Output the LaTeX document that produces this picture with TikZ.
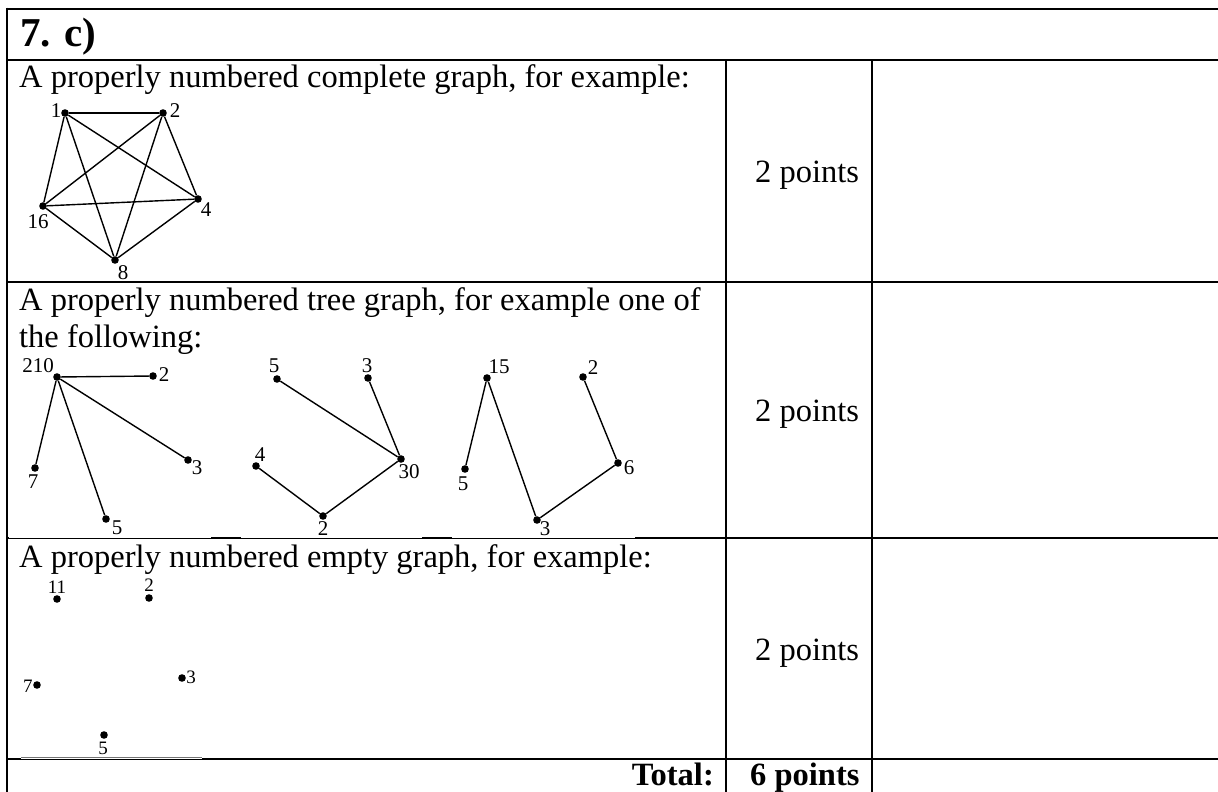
\documentclass[tikz,border=0pt]{standalone}
\usepackage{fontspec}
\setmainfont{Liberation Serif}
\begin{document}
\begin{tikzpicture}[x=1pt,y=-1pt,
  dot/.style={circle, fill=black, inner sep=0pt, minimum size=7.6pt},
  lbl/.style={font=\fontsize{21}{21}\selectfont, inner sep=0pt},
  elbl/.style={font=\fontsize{19}{19}\selectfont, inner sep=0pt},
  edge/.style={line width=1.4pt},
  rule/.style={line width=2.6pt},
  body/.style={font=\fontsize{32.5}{37}\selectfont, inner sep=0pt, anchor=base west},
  pts/.style={font=\fontsize{32.5}{37}\selectfont, inner sep=0pt, anchor=base west},
  bpts/.style={font=\fontsize{32.5}{37}\selectfont\bfseries, inner sep=0pt},
]
\useasboundingbox (0,0) rectangle (1218,792);
\fill[white] (0,0) rectangle (1218,792);
\begin{scope}
\clip (0,0) rectangle (1218,792);
% table rules
\draw[rule] (7,9) -- (1230,9);
\draw[rule] (7,7.7) -- (7,800);
\draw[rule] (7,60) -- (1230,60);
\draw[rule] (7,282) -- (1230,282);
\draw[rule] (7,538) -- (1230,538);
\draw[rule] (7,759) -- (1230,759);
\draw[rule] (726,60) -- (726,800);
\draw[rule] (872,60) -- (872,800);
% picture edges over the rules
\foreach \a/\b in {8.5/211, 241/422, 452/635}{
  \draw[white, line width=1.3pt] (\a,537.1) -- (\b,537.1);
}
\draw[white, line width=1.3pt] (21,758.1) -- (202,758.1);
\draw[black!55, line width=0.8pt] (21,757.6) -- (202,757.6);
\end{scope}

% texts
\node[font=\fontsize{41}{45}\selectfont\bfseries, inner sep=0pt, anchor=base west] (head) at (20,47) {7. c)};
\node[body] (t1) at (19,88) {A properly numbered complete graph, for example:};
\node[body] (t2a) at (19,310) {A properly numbered tree graph, for example one of};
\node[body] (t2b) at (19,347) {the following:};
\node[body] (t3) at (19,567) {A properly numbered empty graph, for example:};
\node[pts] (p1) at (755,182) {2 points};
\node[pts] (p2) at (755,421) {2 points};
\node[pts] (p3) at (755,660) {2 points};
\node[bpts, anchor=base east] (tot) at (714,785) {Total:};
\node[bpts, anchor=base west] (p6) at (750,785) {6 points};

% complete graph
\node[dot] (n1) at (65,113) {};
\node[dot] (n2) at (163,113) {};
\node[dot] (n4) at (198,199) {};
\node[dot] (n16) at (43,206) {};
\node[dot] (n8) at (115,260) {};
\node[lbl] (l1) at (56,111) {1};
\node[lbl] (l2) at (175,111) {2};
\node[lbl] (l4) at (206,210) {4};
\node[lbl] (l16) at (38,222) {16};
\node[lbl] (l8) at (123,273) {8};
\foreach \u/\v in {n1/n2,n1/n4,n1/n8,n1/n16,n2/n4,n2/n8,n2/n16,n4/n8,n4/n16,n8/n16}{
  \draw[edge] (\u) -- (\v);
}

% tree A
\node[dot] (a210) at (57,377) {};
\node[dot] (a2) at (153,376) {};
\node[dot] (a7) at (35,468) {};
\node[dot] (a3) at (188,460) {};
\node[dot] (a5) at (106,519) {};
\node[lbl] (la210) at (38,366) {210};
\node[lbl] (la2) at (164,375) {2};
\node[lbl] (la7) at (33,482) {7};
\node[lbl] (la3) at (197,468) {3};
\node[lbl] (la5) at (117,528) {5};
\foreach \v in {a2,a7,a3,a5}{ \draw[edge] (a210) -- (\v); }

% tree B
\node[dot] (b5) at (277,379) {};
\node[dot] (b3) at (368,378) {};
\node[dot] (b30) at (401,459) {};
\node[dot] (b4) at (256,466) {};
\node[dot] (b2) at (323,516) {};
\node[lbl] (lb5) at (274,366) {5};
\node[lbl] (lb3) at (367,366) {3};
\node[lbl] (lb30) at (409,472) {30};
\node[lbl] (lb4) at (260,455) {4};
\node[lbl] (lb2) at (323,529) {2};
\draw[edge] (b5) -- (b30);
\draw[edge] (b3) -- (b30);
\draw[edge] (b4) -- (b2);
\draw[edge] (b2) -- (b30);

% tree C
\node[dot] (c15) at (487,378) {};
\node[dot] (c2) at (583,377) {};
\node[dot] (c6) at (618,463) {};
\node[dot] (c5) at (465,469) {};
\node[dot] (c3) at (537,520) {};
\node[lbl] (lc15) at (499,367) {15};
\node[lbl] (lc2) at (593,368) {2};
\node[lbl] (lc6) at (629,468) {6};
\node[lbl] (lc5) at (463,484) {5};
\node[lbl] (lc3) at (545,529) {3};
\draw[edge] (c15) -- (c5);
\draw[edge] (c15) -- (c3);
\draw[edge] (c3) -- (c6);
\draw[edge] (c6) -- (c2);

% empty graph
\node[dot] (e11) at (57,599) {};
\node[dot] (e2) at (149,598) {};
\node[dot] (e7) at (37,685) {};
\node[dot] (e3) at (182,678) {};
\node[dot] (e5) at (104,735) {};
\node[elbl] (le11) at (57,587) {11};
\node[elbl] (le2) at (149,585) {2};
\node[elbl] (le7) at (28,686) {7};
\node[elbl] (le3) at (191,677) {3};
\node[elbl] (le5) at (103,748) {5};
\end{tikzpicture}
\end{document}
